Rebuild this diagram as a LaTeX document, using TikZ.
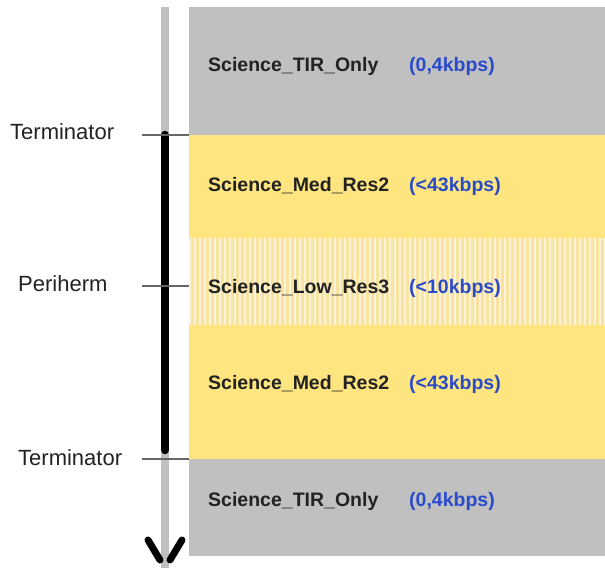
\documentclass[tikz,border=0pt]{standalone}
\usepackage{fontspec}
\setmainfont{Liberation Sans}
\usepackage{tikz}

\definecolor{bandgray}{HTML}{C0C0C0}
\definecolor{bandyellow}{HTML}{FFE57F}
\definecolor{paleyellow}{HTML}{F8E3A0}
\definecolor{ratblue}{HTML}{2A4BC8}
\definecolor{labgray}{HTML}{222222}

\tikzset{
  band/.style={anchor=north west, inner sep=0pt, minimum width=416pt},
  modetext/.style={anchor=base west, inner sep=0pt, font=\fontsize{19.5}{22}\selectfont\bfseries, text=labgray},
  ratetext/.style={anchor=base west, inner sep=0pt, font=\fontsize{19.5}{22}\selectfont\bfseries, text=ratblue},
  orbitlabel/.style={anchor=base west, inner sep=0pt, font=\fontsize{22}{24}\selectfont, text=labgray},
  tick/.style={draw=black!60, line width=1.2pt}
}

\begin{document}
\begin{tikzpicture}[x=1pt, y=-1pt]
\useasboundingbox (0,0) rectangle (605,568);

% Bands (top to bottom)
\node[band, fill=bandgray, minimum height=128pt] (tirA) at (189,7) {};
\node[band, fill=bandyellow, minimum height=103pt] (medA) at (189,135) {};
\node[band, fill=paleyellow, minimum height=87pt] (low) at (189,238) {};
\node[band, fill=bandyellow, minimum height=134pt] (medB) at (189,325) {};
\node[band, fill=bandgray, minimum height=97pt] (tirB) at (189,459) {};

% vertical stripes on the low-res band
\begin{scope}
  \clip (low.north west) rectangle (low.south east);
  \foreach \x in {190,195,...,605}
    \draw[white, line width=1.6pt, opacity=.6] (\x,238) -- (\x,325);
\end{scope}

% Time axis: grey line, black part between terminators
\draw[bandgray, line width=8pt] (165,7) -- (165,568);
\draw[black, line width=8.5pt, line cap=round] (165,135) -- (165,450);
\draw[black, line width=7pt, line cap=round] (148,540) -- (160,560);
\draw[black, line width=7pt, line cap=round] (182,540) -- (170,560);

% Orbit labels and ticks
\node[orbitlabel] (termA) at (10,139) {Terminator};
\node[orbitlabel] (peri) at (18,291) {Periherm};
\node[orbitlabel] (termB) at (18,465) {Terminator};
\coordinate (tickA) at (142,135);
\coordinate (tickP) at (142,286);
\coordinate (tickB) at (142,459);
\draw[tick] (tickA) -- (medA.north west);
\draw[tick] (tickP) -- (low.west |- tickP);
\draw[tick] (tickB) -- (tirB.north west);

% Mode names and rates
\node[modetext] (nTirA) at (208,71) {Science\_TIR\_Only};
\node[ratetext] (rTirA) at (409,71) {(0,4kbps)};
\node[modetext] (nMedA) at (208,191) {Science\_Med\_Res2};
\node[ratetext] (rMedA) at (409,191) {(<43kbps)};
\node[modetext] (nLow) at (208,293) {Science\_Low\_Res3};
\node[ratetext] (rLow) at (409,293) {(<10kbps)};
\node[modetext] (nMedB) at (208,389) {Science\_Med\_Res2};
\node[ratetext] (rMedB) at (409,389) {(<43kbps)};
\node[modetext] (nTirB) at (208,506) {Science\_TIR\_Only};
\node[ratetext] (rTirB) at (409,506) {(0,4kbps)};

\end{tikzpicture}
\end{document}
